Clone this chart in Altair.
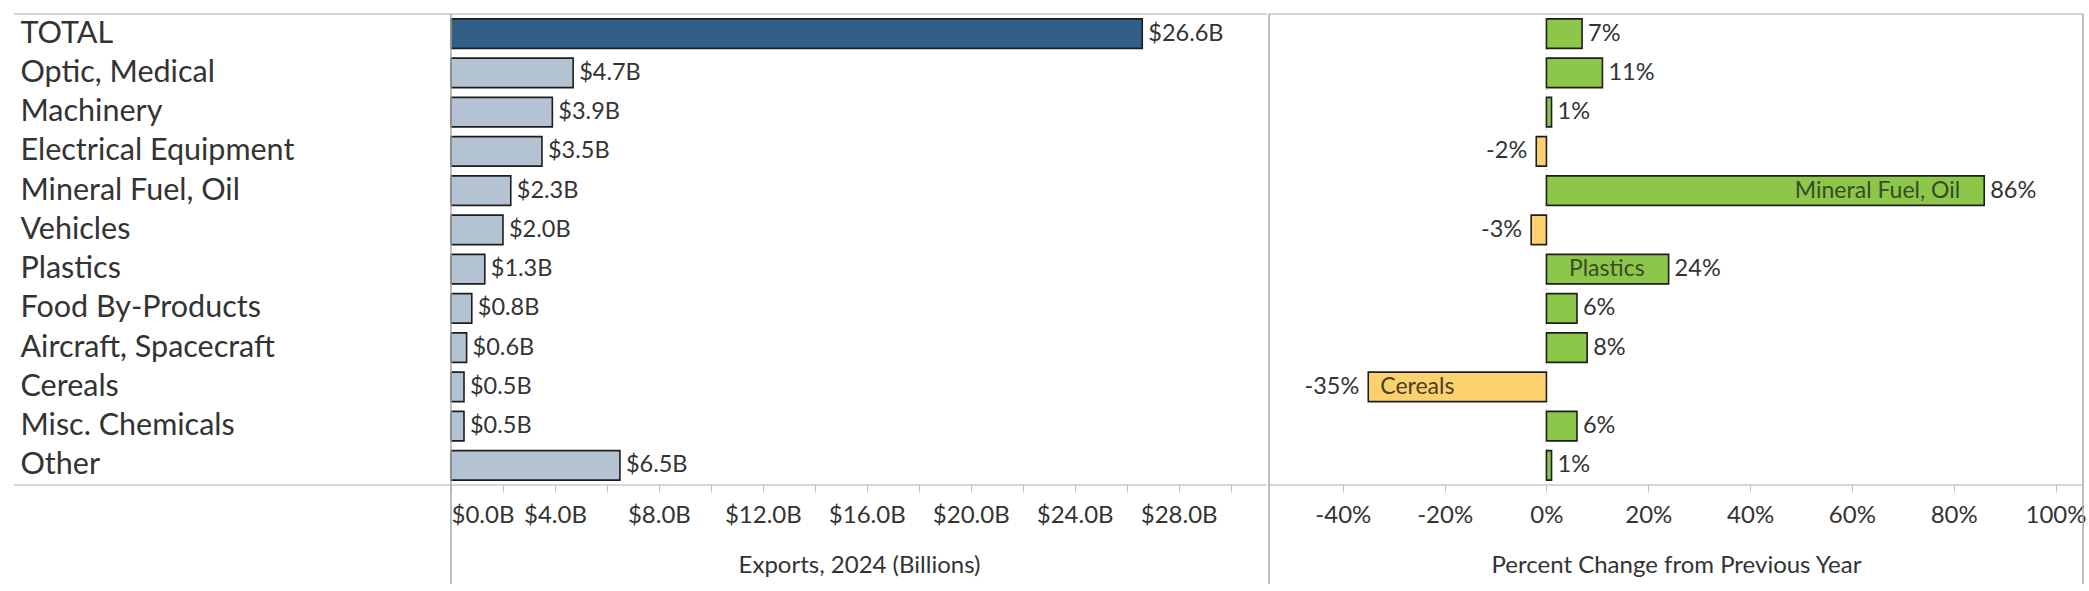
import altair as alt
import pandas as pd

# Exports by product group, 2024, with change from the previous year
categories = [
    "TOTAL", "Optic, Medical", "Machinery", "Electrical Equipment",
    "Mineral Fuel, Oil", "Vehicles", "Plastics", "Food By-Products",
    "Aircraft, Spacecraft", "Cereals", "Misc. Chemicals", "Other",
]
exports_billions = [26.6, 4.7, 3.9, 3.5, 2.3, 2.0, 1.3, 0.8, 0.6, 0.5, 0.5, 6.5]
pct_change = [7, 11, 1, -2, 86, -3, 24, 6, 8, -35, 6, 1]
named_in_bar = ["Mineral Fuel, Oil", "Plastics", "Cereals"]

export_ticks = list(range(0, 32, 2))
change_ticks = [-40, -20, 0, 20, 40, 60, 80, 100]

df = pd.DataFrame({"category": categories, "exports": exports_billions, "change": pct_change})
df["group"] = ["Total" if c == "TOTAL" else "Item" for c in categories]
df["sign"] = ["Up" if v >= 0 else "Down" for v in pct_change]
df["inner"] = [c if c in named_in_bar else "" for c in categories]

FONT = "Lato"
TEXT = "#333333"
HLINE = "#c8c8c8"
VLINE = "#a8a8a8"
W_L, W_R, H = 816, 814, 471
LABEL_COL = 437

band = alt.Scale(paddingInner=0.25, paddingOuter=0.125)
one_row = pd.DataFrame({"k": [0]})


def frame(x, x2=None, y=0, y2=None, color=HLINE):
    enc = {"x": alt.value(x), "y": alt.value(y)}
    if x2 is not None:
        enc["x2"] = alt.value(x2)
    if y2 is not None:
        enc["y2"] = alt.value(y2)
    return alt.Chart(one_row).mark_rule(color=color, strokeWidth=1.5).encode(**enc)


axis_common = dict(
    grid=False, domain=False, tickColor="#c4c4c4", tickSize=7, tickWidth=1,
    labelFont=FONT, labelFontSize=24, labelColor=TEXT, labelPadding=11,
    titleFont=FONT, titleFontSize=24, titleFontWeight="normal", titleColor=TEXT,
    titlePadding=26,
)

# ---- left panel: export values ----
y_left = alt.Y(
    "category:N", sort=categories, scale=band,
    axis=alt.Axis(
        title=None, labelAlign="left", labelPadding=431, ticks=False, domain=False,
        labelFont=FONT, labelFontSize=30.5, labelColor=TEXT, labelLimit=600,
    ),
)
x_left = alt.X(
    "exports:Q",
    scale=alt.Scale(domain=[0, 31.4], nice=False, zero=True),
    axis=alt.Axis(
        values=export_ticks,
        labelExpr="datum.value % 4 === 0 ? '$' + format(datum.value, '.1f') + 'B' : ''",
        labelFlush=True, title="Exports, 2024 (Billions)", **axis_common,
    ),
)
left_base = alt.Chart(df)
left_bars = left_base.mark_bar(stroke="#1e1e1e", strokeWidth=1.6).encode(
    y=y_left, x=x_left,
    color=alt.Color("group:N", scale=alt.Scale(domain=["Total", "Item"],
                                               range=["#325f88", "#b3c3d3"]), legend=None),
)
left_text = left_base.transform_calculate(
    lbl="'$' + format(datum.exports, '.1f') + 'B'"
).mark_text(align="left", dx=6, font=FONT, fontSize=23.5, color=TEXT).encode(
    y=y_left, x=x_left, text="lbl:N"
)
left = alt.layer(
    left_bars, left_text,
    frame(-LABEL_COL, W_L, y=0),
    frame(-LABEL_COL, W_L, y=H),
    frame(0, y=0, y2=570, color=VLINE),
).properties(width=W_L, height=H)

# ---- right panel: percent change ----
y_right = alt.Y("category:N", sort=categories, scale=band, axis=None)
x_right = alt.X(
    "change:Q",
    scale=alt.Scale(domain=[-54.5, 105.4], nice=False, zero=False),
    axis=alt.Axis(values=change_ticks, labelExpr="datum.value + '%'",
                  title="Percent Change from Previous Year", **axis_common),
)
right_base = alt.Chart(df)
zero_line = alt.Chart(pd.DataFrame({"change": [0]})).mark_rule(
    color="#bdbdbd", strokeDash=[1, 4], strokeWidth=1
).encode(x=x_right, y=alt.value(0), y2=alt.value(H))
right_bars = right_base.mark_bar(stroke="#1e1e1e", strokeWidth=1.6).encode(
    y=y_right, x=x_right,
    color=alt.Color("sign:N", scale=alt.Scale(domain=["Up", "Down"],
                                              range=["#8dc74a", "#fdd26e"]), legend=None),
)
pos_text = right_base.transform_filter("datum.change >= 0").transform_calculate(
    lbl="datum.change + '%'"
).mark_text(align="left", dx=6, font=FONT, fontSize=23.5, color=TEXT).encode(
    y=y_right, x=x_right, text="lbl:N")
neg_text = right_base.transform_filter("datum.change < 0").transform_calculate(
    lbl="datum.change + '%'"
).mark_text(align="right", dx=-9, font=FONT, fontSize=23.5, color=TEXT).encode(
    y=y_right, x=x_right, text="lbl:N")
inner_pos = right_base.transform_filter("datum.inner !== '' && datum.change >= 0").mark_text(
    align="right", dx=-24, font=FONT, fontSize=23, color="#3a4a26"
).encode(y=y_right, x=x_right, text="inner:N")
inner_neg = right_base.transform_filter("datum.inner !== '' && datum.change < 0").mark_text(
    align="left", dx=12, font=FONT, fontSize=23, color="#4a3f22"
).encode(y=y_right, x=x_right, text="inner:N")

right = alt.layer(
    zero_line, right_bars, pos_text, neg_text, inner_pos, inner_neg,
    frame(0, W_R, y=0),
    frame(0, W_R, y=H),
    frame(0, y=0, y2=570, color=VLINE),
    frame(W_R, y=0, y2=570, color=VLINE),
).properties(width=W_R, height=H)

chart = alt.hconcat(left, right, spacing=0).resolve_scale(
    color="independent"
).properties(
    padding={"left": 13, "top": 13, "right": 0, "bottom": 0}
).configure_view(stroke=None).configure_concat(spacing=0)

chart.save("out.html", embed_options={"renderer": "svg", "actions": False})
